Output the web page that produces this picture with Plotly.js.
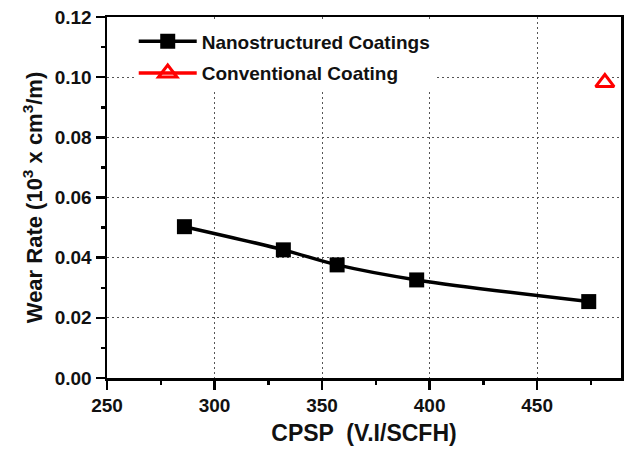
<!DOCTYPE html>
<html>
<head>
<meta charset="utf-8">
<script src="https://cdn.plot.ly/plotly-3.0.1.min.js"></script>
<style>html,body{margin:0;padding:0;background:#fff}#chart{width:626px;height:451px}</style>
</head>
<body>
<div id="chart"></div>
<script>
// Data
const nanoCPSP = [286, 332, 357, 394, 474];
const nanoWear = [0.0503, 0.0426, 0.0376, 0.0326, 0.0254];
const convCPSP = [481.5];
const convWear = [0.0982];
const xTicks = [250, 300, 350, 400, 450];
const yTicks = [0.00, 0.02, 0.04, 0.06, 0.08, 0.10, 0.12];

const font = {family: 'Liberation Sans, Arial, sans-serif', color: '#111'};

const traces = [
  {
    x: nanoCPSP, y: nanoWear, name: 'Nanostructured Coatings',
    type: 'scatter', mode: 'lines+markers', legendgroup: 'a',
    line: {color: '#000', width: 3.5, shape: 'spline'},
    marker: {symbol: 'square', size: 15, color: '#000'}
  },
  {
    x: convCPSP, y: convWear, name: 'Conventional Coating',
    type: 'scatter', mode: 'lines+markers', legendgroup: 'b',
    line: {color: '#ff0000', width: 3.5},
    marker: {symbol: 'triangle-up-open', size: 16, color: '#ff0000', line: {width: 3, color: '#ff0000'}}
  }
];

const axisCommon = {
  showline: true, linecolor: '#000', linewidth: 2.5, mirror: true,
  ticks: 'outside', ticklen: 9, tickwidth: 2.5, tickcolor: '#000',
  showgrid: true, gridcolor: '#555', gridwidth: 1, griddash: '2px,3px',
  zeroline: false,
  tickfont: Object.assign({size: 19, weight: 'bold'}, font)
};

const layout = {
  width: 626, height: 451,
  margin: {l: 107, r: 5, t: 17, b: 73},
  paper_bgcolor: '#fff', plot_bgcolor: '#fff',
  font: font,
  showlegend: true,
  legend: {
    x: 0.052, y: 0.985, xanchor: 'left', yanchor: 'top',
    bgcolor: '#fff', borderwidth: 0,
    traceorder: 'grouped', tracegroupgap: 4,
    font: Object.assign({size: 19, weight: 'bold'}, font),
    itemwidth: 58
  },
  xaxis: Object.assign({}, axisCommon, {
    range: [250, 489], tickvals: xTicks, ticktext: xTicks.map(String),
    minor: {ticks: 'outside', ticklen: 4, tickwidth: 2.5, tickcolor: '#000', dtick: 25, tick0: 250, showgrid: false},
    title: {text: 'CPSP  (V.I/SCFH)', font: Object.assign({size: 23, weight: 'bold'}, font), standoff: 10}
  }),
  yaxis: Object.assign({}, axisCommon, {
    range: [0, 0.12], tickvals: yTicks, ticktext: yTicks.map(v => v.toFixed(2)),
    minor: {ticks: 'outside', ticklen: 4, tickwidth: 2.5, tickcolor: '#000', dtick: 0.01, tick0: 0, showgrid: false},
    title: {text: 'Wear Rate (10<sup>3</sup> x cm<sup>3</sup>/m)', font: Object.assign({size: 22, weight: 'bold'}, font), standoff: 6}
  })
};

Plotly.newPlot('chart', traces, layout, {staticPlot: true, displayModeBar: false});
</script>
</body>
</html>
